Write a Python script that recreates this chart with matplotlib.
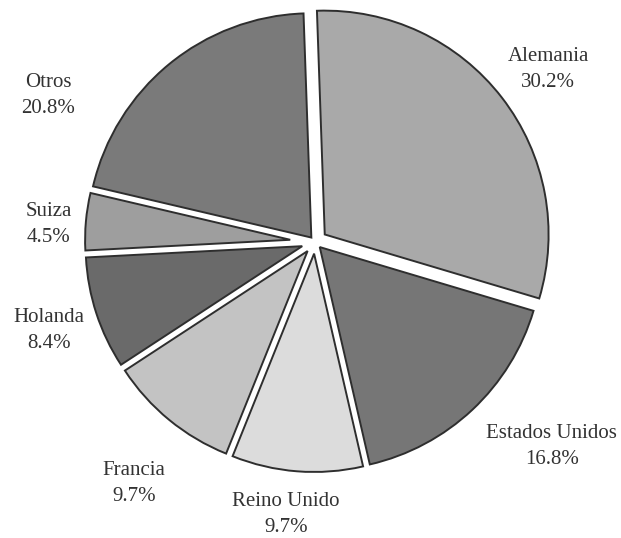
import numpy as np
import matplotlib
matplotlib.use("Agg")
import matplotlib.pyplot as plt

# ---- data ----
countries = ["Alemania", "Estados Unidos", "Reino Unido", "Francia", "Holanda", "Suiza", "Otros"]
shares = [30.2, 16.8, 9.7, 9.7, 8.4, 4.5, 20.8]
pct_labels = ["30.2%", "16.8%", "9.7%", "9.7%", "8.4%", "4.5%", "20.8%"]

# ---- style / layout ----
colors = ["#a9a9a9", "#767676", "#dcdcdc", "#c3c3c3", "#6a6a6a", "#9e9e9e", "#7a7a7a"]
edge_col = "#2e2e2e"
text_col = "#333333"
px = 230.0  # pixels per data unit (pie radius)
half_gaps = [10.0, 3.5, 3.5, 3.5, 3.5, 3.5, 3.5]  # px, half width of white gaps
label_xy = [(1.013, 0.748), (1.030, -0.891), (-0.126, -1.183), (-0.787, -1.048),
            (-1.157, -0.383), (-1.157, 0.074), (-1.161, 0.639)]

fig = plt.figure(figsize=(6.21, 5.38), dpi=100)
fig.patch.set_facecolor("white")
ax = fig.add_axes([0, 0, 1, 1])

total = float(sum(shares))
explode = []
for s, hg in zip(shares, half_gaps):
    half_ang = np.pi * s / total
    explode.append((hg / px) / np.sin(half_ang))

wedges, _ = ax.pie(shares, explode=explode, colors=colors, startangle=92,
                   counterclock=False, radius=1.0,
                   wedgeprops=dict(edgecolor=edge_col, linewidth=1.4))
for i, w in enumerate(wedges):
    if i == 0:
        w.set_radius(1.0 - 0.5 * explode[i])
    else:
        w.set_radius(1.0 - explode[i])

for (x, y), name, pct in zip(label_xy, countries, pct_labels):
    ax.text(x, y, f"{name}\n{pct}", ha="center", va="center", fontsize=15,
            family="Liberation Serif", color=text_col, linespacing=1.5)

ax.set_xlim(-315 / px, (621 - 315) / px)
ax.set_ylim(-(538 - 242) / px, 242 / px)
ax.set_aspect("equal")
ax.axis("off")

fig.savefig("out.png", dpi=100, facecolor="white")
